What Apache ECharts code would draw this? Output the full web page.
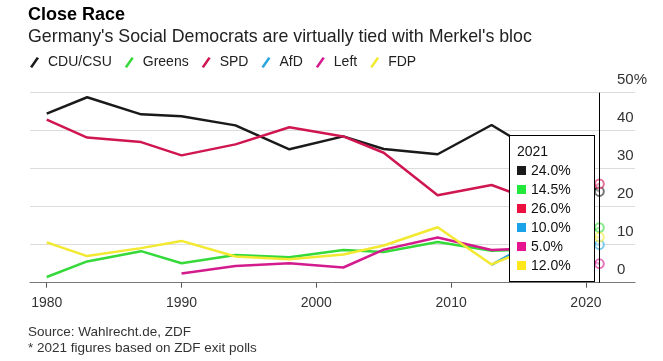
<!DOCTYPE html>
<html>
<head>
<meta charset="utf-8">
<script src="https://cdn.jsdelivr.net/npm/echarts@6/dist/echarts.min.js"></script>
<style>
html,body{margin:0;padding:0;background:#fff;}
#chart{width:663px;height:361px;}
</style>
</head>
<body>
<div id="chart"></div>
<script>
// ---- data ----
const years = [1980, 1983, 1987, 1990, 1994, 1998, 2002, 2005, 2009, 2013, 2017, 2021];
const parties = ['CDU/CSU', 'Greens', 'SPD', 'AfD', 'Left', 'FDP'];
const cduCsu = [44.5, 48.8, 44.3, 43.8, 41.4, 35.1, 38.5, 35.2, 33.8, 41.5, 32.9, 24.0];
const greens = [1.5, 5.6, 8.3, 5.1, 7.3, 6.7, 8.6, 8.1, 10.7, 8.4, 8.9, 14.5];
const spd = [42.9, 38.2, 37.0, 33.5, 36.4, 40.9, 38.5, 34.2, 23.0, 25.7, 20.5, 26.0];
const afd = [null, null, null, null, null, null, null, null, null, 4.7, 12.6, 10.0];
const left = [null, null, null, 2.4, 4.4, 5.1, 4.0, 8.7, 11.9, 8.6, 9.2, 5.0];
const fdp = [10.6, 7.0, 9.1, 11.0, 6.9, 6.2, 7.4, 9.8, 14.6, 4.8, 10.7, 12.0];
const xTicks = [1980, 1990, 2000, 2010, 2020];
const yTicks = [0, 10, 20, 30, 40, 50];
const highlightYear = 2021;

const seriesValues = [cduCsu, greens, spd, afd, left, fdp];
const lineColors = ['#1a1a1a', '#35d93a', '#cf1650', '#2ba6de', '#d41b8e', '#f2e930'];
const boxColors = ['#1a1a1a', '#22e83c', '#ec1040', '#1aa3e8', '#e8148f', '#ffe81a'];
const FONT = '"Liberation Sans", Arial, Helvetica, sans-serif';

const hiIdx = years.indexOf(highlightYear);

const series = parties.map((name, i) => ({
  name: name,
  type: 'line',
  color: lineColors[i],
  symbol: 'emptyCircle',
  symbolSize: 8,
  showSymbol: true,
  showAllSymbol: true,
  connectNulls: false,
  lineStyle: { width: 2.5, color: lineColors[i] },
  itemStyle: { color: lineColors[i], borderWidth: 1.3, opacity: 0.6 },
  emphasis: { disabled: true },
  data: years.map((y, k) => {
    const v = seriesValues[i][k];
    if (k === hiIdx) return { value: [y, v] };
    return { value: [y, v], symbol: 'none' };
  })
}));

const chart = echarts.init(document.getElementById('chart'), null, { renderer: 'canvas' });
chart.setOption({
  animation: false,
  textStyle: { fontFamily: FONT },
  title: [
    { text: 'Close Race', left: 28, top: 6.5, padding: 0,
      textStyle: { fontFamily: FONT, fontSize: 18, fontWeight: 'bold', color: '#000' } },
    { text: "Germany's Social Democrats are virtually tied with Merkel's bloc", left: 28, top: 28, padding: 0,
      textStyle: { fontFamily: FONT, fontSize: 17.8, fontWeight: 'normal', color: '#222' } },
    { text: 'Source: Wahlrecht.de, ZDF', left: 28, top: 325, padding: 0,
      textStyle: { fontFamily: FONT, fontSize: 13.5, fontWeight: 'normal', color: '#333' } },
    { text: '* 2021 figures based on ZDF exit polls', left: 28, top: 341, padding: 0,
      textStyle: { fontFamily: FONT, fontSize: 13.5, fontWeight: 'normal', color: '#333' } }
  ],
  legend: {
    data: parties.map((p, i) => ({ name: p, itemStyle: { color: lineColors[i], borderWidth: 0, opacity: 1 } })),
    left: 30, top: 55.5, padding: 0,
    icon: 'path://M2.2,11 L0,9.8 L6.8,0 L9,1.2 Z',
    itemWidth: 9, itemHeight: 11, itemGap: 13,
    selectedMode: false,
    itemStyle: { borderWidth: 0, opacity: 1 },
    textStyle: { fontFamily: FONT, fontSize: 14, color: '#222', padding: [0, 0, 0, 4] }
  },
  grid: { left: 30, right: 28, top: 92.7, bottom: 78.3, containLabel: false },
  xAxis: {
    type: 'value', min: 1978.76, max: 2023.64,
    splitLine: { show: false },
    axisLine: { show: true, lineStyle: { color: '#777', width: 1 } },
    axisTick: { show: true, customValues: xTicks, length: 5, lineStyle: { color: '#555' } },
    axisLabel: { customValues: xTicks, fontFamily: FONT, fontSize: 14, color: '#333', margin: 13,
      formatter: v => String(v) }
  },
  yAxis: {
    type: 'value', position: 'right', min: 0, max: 50, interval: 10,
    axisLine: { show: false }, axisTick: { show: false },
    splitLine: { lineStyle: { color: '#dcdcdc', width: 1 } },
    axisLabel: { inside: true, align: 'left', margin: 18, verticalAlign: 'bottom',
      padding: [0, 0, 5, 0], fontFamily: FONT, fontSize: 15, color: '#333',
      formatter: v => (v === yTicks[yTicks.length - 1] ? v + '%' : String(v)) }
  },
  tooltip: {
    trigger: 'axis', triggerOn: 'none', alwaysShowContent: true, transitionDuration: 0,
    backgroundColor: '#fff', borderColor: '#000', borderWidth: 1, borderRadius: 0,
    padding: [6, 7, 6, 7],
    extraCssText: 'box-shadow:none;border-radius:0;width:70px;',
    axisPointer: { type: 'line', snap: true, lineStyle: { color: '#000', width: 1, type: 'solid' }, label: { show: false } },
    position: function () { return [509, 135]; },
    formatter: function (params) {
      const ff = FONT.replace(/"/g, "'");
      let html = '<div style="font-family:' + ff + ';font-size:14px;line-height:19px;color:#111;">' + highlightYear + '</div>';
      params.forEach(p => {
        const v = p.value[1];
        html += '<div style="font-family:' + ff + ';font-size:14px;line-height:19px;color:#111;white-space:nowrap;">' +
          '<span style="display:inline-block;width:9px;height:9px;margin-right:5px;background:' + boxColors[p.seriesIndex] + ';"></span>' +
          v.toFixed(1) + '%</div>';
      });
      return html;
    }
  },
  series: series
});
chart.dispatchAction({ type: 'showTip', seriesIndex: 0, dataIndex: hiIdx });
</script>
</body>
</html>
